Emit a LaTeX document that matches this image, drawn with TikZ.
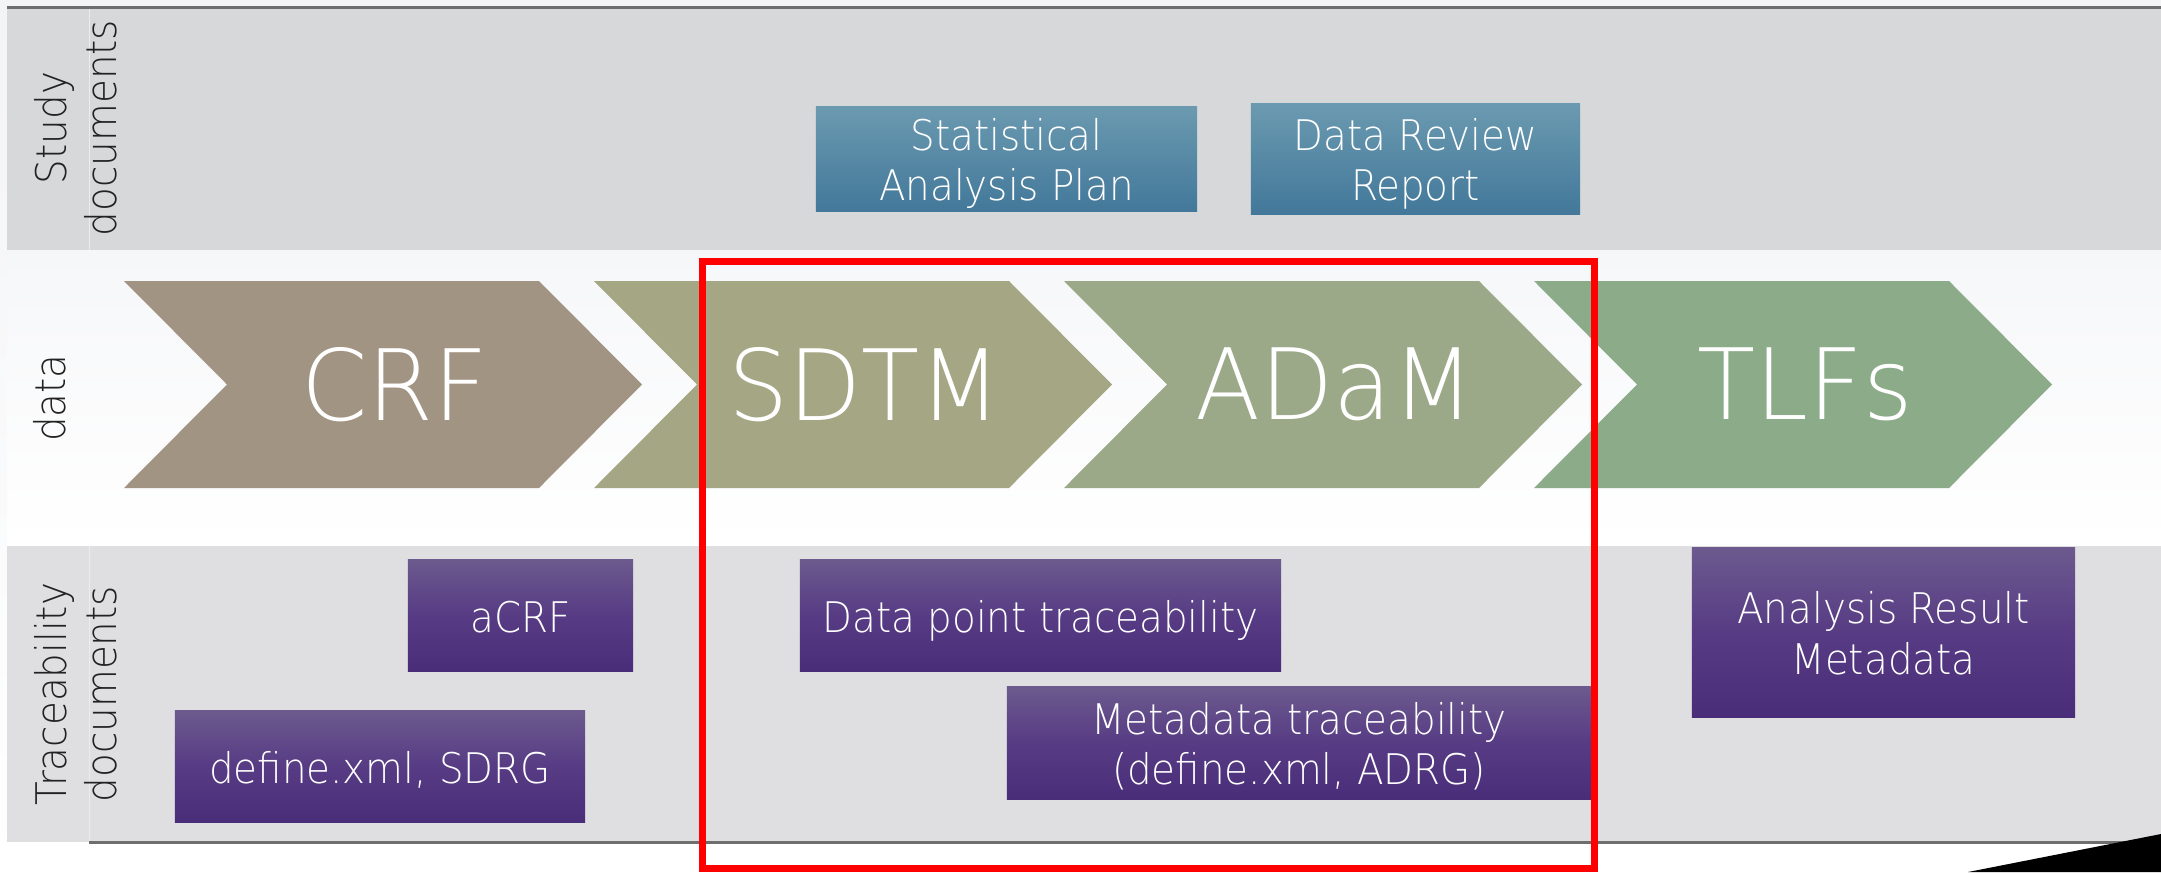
\documentclass[tikz,border=0pt]{standalone}
\usepackage{fontspec}
\newfontfamily\lightfont{DejaVu Sans ExtraLight}[FakeStretch=0.92]
\newfontfamily\chevfont{DejaVu Sans ExtraLight}[FakeStretch=0.965]

% one text line with fixed ascent and descent, so every box centres alike
\newcommand\boxline[1]{\rule[-0.6pt]{0pt}{10.6pt}\smash{#1}}

% band and box colours
\definecolor{pagetop}{HTML}{F3F4F6}
\definecolor{studyband}{HTML}{D7D8DA}
\definecolor{traceband}{HTML}{DFDFE1}
\definecolor{divider}{HTML}{ECECEE}
\definecolor{rulegray}{HTML}{6E6E6E}
\definecolor{datatop}{HTML}{F6F7F9}
\definecolor{tealtop}{HTML}{6B9AB0}
\definecolor{tealbot}{HTML}{43789A}
\definecolor{purptop}{HTML}{6C5A8E}
\definecolor{purpmid}{HTML}{573B84}
\definecolor{purpbot}{HTML}{4A2D79}
\definecolor{crfcol}{HTML}{A29482}
\definecolor{sdtmcol}{HTML}{A5A684}
\definecolor{adamcol}{HTML}{9BA988}
\definecolor{tlfcol}{HTML}{8BAB89}
\definecolor{labeltext}{HTML}{222222}

\begin{document}
\begin{tikzpicture}[x=0.01cm, y=-0.01cm,
  doc/.style={rectangle, inner sep=0pt, align=center, text=white,
    font=\lightfont\fontsize{12}{14.3}\selectfont},
  tealbox/.style={doc, top color=tealtop, bottom color=tealbot},
  purplebox/.style={doc, top color=purptop, bottom color=purpbot, middle color=purpmid},
  sidelabel/.style={rotate=90, align=center, inner sep=0pt, text=labeltext,
    font=\lightfont\fontsize{12}{14.3}\selectfont},
  chevtext/.style={inner sep=0pt, text=white, font=\chevfont\fontsize{28}{34}\selectfont},
  focus/.style={draw=red, line width=0.07cm}
]
\useasboundingbox (0,0) rectangle (2161,872);

% page background
\shade[top color=pagetop, bottom color=white] (0,0) rectangle (2161,872);

% study documents band
\fill[studyband] (7,7) rectangle (2161,250);
\draw[divider, line width=0.01cm] (89,7) -- (89,250);
\draw[rulegray, line width=0.03cm] (7,7) -- (2161,7);

% data band
\shade[top color=datatop, bottom color=white] (7,250) rectangle (2161,546);

% traceability documents band
\fill[traceband] (7,546) rectangle (2161,842);
\draw[divider, line width=0.01cm] (89,546) -- (89,842);
\draw[rulegray, line width=0.03cm] (89,842) -- (2161,842);

% band labels
\node[sidelabel] (lblstudy) at (76,128) {Study\\documents};
\node[sidelabel] (lbldata) at (50,398) {data};
\node[sidelabel] (lbltrace) at (76,694) {Traceability\\documents};

% data flow chevrons
\foreach \x/\c/\t/\n in {124/crfcol/CRF/crf, 594/sdtmcol/SDTM/sdtm, 1064/adamcol/ADaM/adam, 1534/tlfcol/TLFs/tlf}{
  \fill[\c] (\x,281) -- ++(415,0) -- ++(103,103.5) -- ++(-103,103.5)
            -- ++(-415,0) -- ++(103,-103.5) -- cycle;
  \node[chevtext] (\n) at ({\x+271},384.5) {\t};
}

% study documents
\node[tealbox, minimum width=3.81cm, minimum height=1.04cm] (sap) at (1006.5,159)
  {\boxline{Statistical}\\\boxline{Analysis Plan}};
\node[tealbox, minimum width=3.29cm, minimum height=1.10cm] (drr) at (1415.5,159)
  {\boxline{Data Review}\\\boxline{Report}};

% traceability documents
\node[purplebox, minimum width=2.25cm, minimum height=1.11cm] (acrf) at (520.5,615.5)
  {\boxline{aCRF}};
\node[purplebox, minimum width=4.10cm, minimum height=1.11cm] (sdrg) at (380,766.5)
  {\boxline{define.xml, SDRG}};
\node[purplebox, minimum width=4.81cm, minimum height=1.11cm] (dpt) at (1040.5,615.5)
  {\boxline{Data point traceability}};
\node[purplebox, minimum width=5.84cm, minimum height=1.12cm] (mdt) at (1299,743)
  {\boxline{Metadata traceability}\\\boxline{(define.xml, ADRG)}};
\node[purplebox, minimum width=3.83cm, minimum height=1.69cm] (arm) at (1883.5,632.5)
  {\boxline{Analysis Result}\\\boxline{Metadata}};

% highlight frame around SDTM and ADaM
\draw[focus] (702,261) rectangle (1594,868);

% corner wedge
\fill[black] (1968,872) -- (2161,834) -- (2161,872) -- cycle;
\end{tikzpicture}
\end{document}
